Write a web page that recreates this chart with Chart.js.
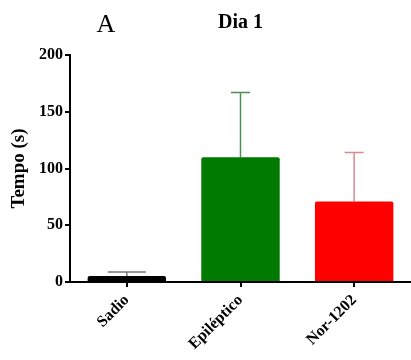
<!DOCTYPE html>
<html>
<head>
<meta charset="utf-8">
<script src="https://cdn.jsdelivr.net/npm/chart.js@4"></script>
<style>
  html, body { margin: 0; padding: 0; background: #fff; }
  #wrap { width: 411px; height: 360px; position: relative; }
</style>
</head>
<body>
<div id="wrap"><canvas id="c"></canvas></div>
<script>
// Tempo (s) per group, day 1: mean and SEM
const categories = ['Sadio', 'Epiléptico', 'Nor-1202'];
const means = [5.3, 110, 71];
const sem = [3.5, 57, 43];
const yTicks = [0, 50, 100, 150, 200];

const barColors = ['#000000', '#007a00', '#ff0000'];
const errColors = ['#777777', '#4f8f4f', '#d98a92'];
const capWidths = [38, 19, 19];

const serif = '"Liberation Serif", "Times New Roman", serif';

// Upward-only error whiskers, placed through the chart's own scales
const errorBars = {
  id: 'errorBars',
  beforeDatasetsDraw(chart) {
    const ctx = chart.ctx;
    const x = chart.scales.x, y = chart.scales.y;
    ctx.save();
    ctx.lineWidth = 1.5;
    means.forEach((m, i) => {
      const cx = x.getPixelForValue(i);
      const y0 = y.getPixelForValue(m);
      const y1 = y.getPixelForValue(m + sem[i]);
      ctx.strokeStyle = errColors[i];
      ctx.beginPath();
      ctx.moveTo(cx, y0);
      ctx.lineTo(cx, y1);
      ctx.moveTo(cx - capWidths[i] / 2, y1);
      ctx.lineTo(cx + capWidths[i] / 2, y1);
      ctx.stroke();
    });
    ctx.restore();
  }
};

// Panel letter and title text
const headings = {
  id: 'headings',
  afterDraw(chart) {
    const ctx = chart.ctx;
    const area = chart.chartArea;
    ctx.save();
    ctx.fillStyle = '#000';
    ctx.textBaseline = 'alphabetic';
    ctx.textAlign = 'center';
    ctx.font = 'bold 20px ' + serif;
    ctx.fillText('Dia 1', (area.left + area.right) / 2, 28);
    ctx.font = '26px ' + serif;
    ctx.fillText('A', 106, 32);
    ctx.restore();
  }
};

new Chart(document.getElementById('c'), {
  type: 'bar',
  data: {
    labels: categories,
    datasets: [{
      data: means,
      backgroundColor: barColors,
      borderWidth: 0,
      borderRadius: 2,
      borderSkipped: 'bottom',
      barPercentage: 0.69,
      categoryPercentage: 1.0
    }]
  },
  options: {
    responsive: true,
    maintainAspectRatio: false,
    animation: false,
    layout: { padding: { top: 55, left: 0, right: 0, bottom: 0 } },
    plugins: {
      legend: { display: false },
      tooltip: { enabled: false },
      title: { display: false }
    },
    scales: {
      x: {
        offset: true,
        border: { display: true, color: '#000', width: 2 },
        grid: {
          offset: false,
          drawOnChartArea: false,
          drawTicks: true,
          tickLength: 5,
          tickColor: '#000',
          lineWidth: 2
        },
        ticks: {
          color: '#000',
          font: { family: serif, size: 16, weight: 'bold' },
          minRotation: 45,
          maxRotation: 45,
          padding: 4,
          autoSkip: false
        },
        afterFit(scale) { scale.height = 78; }
      },
      y: {
        min: 0,
        max: 200,
        border: { display: true, color: '#000', width: 2 },
        grid: {
          drawOnChartArea: false,
          drawTicks: true,
          tickLength: 5,
          tickColor: '#000',
          lineWidth: 2
        },
        ticks: {
          color: '#000',
          font: { family: serif, size: 16, weight: 'bold' },
          padding: 2,
          stepSize: 50,
          callback: (v) => yTicks.includes(v) ? String(v) : null
        },
        title: {
          display: true,
          text: 'Tempo (s)',
          color: '#000',
          font: { family: serif, size: 19, weight: 'bold' },
          padding: { top: 8, bottom: 0 }
        },
        afterFit(scale) { scale.width = 70; }
      }
    }
  },
  plugins: [errorBars, headings]
});
</script>
</body>
</html>
